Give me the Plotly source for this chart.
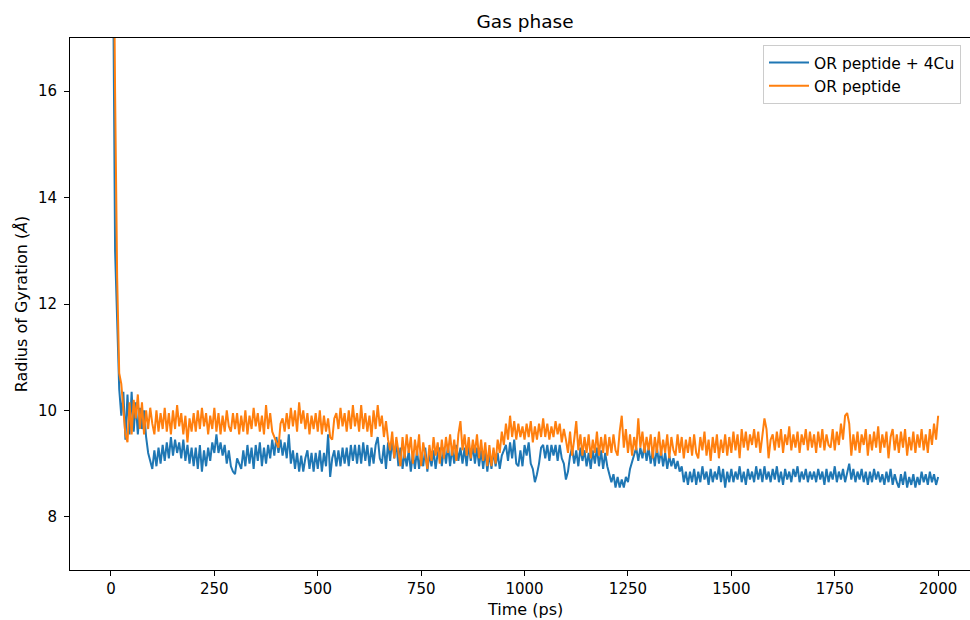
import plotly.graph_objects as go

# Radius of gyration sampled every 5 ps, 0..2000 ps
time_step_ps = 5

rg_cu = [
    24.0, 18.0, 13.0, 11.7, 10.4, 9.9, 10.35, 9.45, 10.3, 9.55, 10.35, 9.6, 10.15, 9.55, 10.05, 9.65, 10.0, 9.5, 9.2, 9.05,
    8.9, 9.25, 8.95, 9.3, 9.0, 9.35, 9.05, 9.4, 9.1, 9.5, 9.15, 9.45, 9.2, 9.4, 9.1, 9.45, 9.05, 9.35, 9.0, 9.3,
    8.95, 9.3, 8.9, 9.35, 8.85, 9.25, 8.95, 9.3, 9.05, 9.4, 9.2, 9.55, 9.2, 9.4, 9.15, 9.35, 9.0, 9.25, 8.95, 8.85,
    8.8, 9.1, 9.0, 8.9, 9.25, 8.95, 9.35, 9.0, 9.3, 8.9, 9.35, 9.05, 9.4, 8.95, 9.3, 9.0, 9.35, 9.1, 9.45, 9.15,
    9.5, 9.2, 9.45, 9.15, 9.4, 9.1, 9.55, 9.0, 9.25, 8.9, 9.2, 8.85, 9.15, 8.85, 9.1, 9.25, 8.9, 9.2, 8.85, 9.2,
    8.9, 9.25, 8.85, 9.2, 8.95, 9.55, 8.75, 9.1, 9.25, 8.95, 9.25, 8.95, 9.3, 9.0, 9.3, 8.95, 9.35, 9.05, 9.35, 9.0,
    9.35, 9.0, 9.4, 9.05, 9.35, 8.95, 9.3, 9.0, 9.35, 9.5, 9.1, 9.0, 9.35, 8.9, 9.4, 9.05, 9.45, 9.1, 9.4, 8.95,
    9.3, 8.9, 9.2, 8.95, 9.25, 8.85, 9.2, 8.9, 9.25, 8.9, 9.2, 8.95, 9.3, 8.85, 9.2, 8.95, 9.25, 8.9, 9.2, 9.3,
    8.95, 9.3, 9.0, 9.35, 8.95, 9.3, 9.0, 9.35, 9.05, 9.3, 9.0, 9.3, 8.95, 9.35, 9.05, 9.35, 9.0, 9.3, 8.95, 9.25,
    8.9, 9.25, 8.85, 9.2, 8.9, 9.25, 8.95, 9.2, 8.9, 9.15, 9.25, 9.35, 9.05, 9.4, 9.1, 9.45, 9.0, 8.95, 9.25, 8.95,
    9.35, 9.15, 9.4, 9.0, 8.9, 8.65, 8.8, 9.0, 9.3, 9.35, 9.1, 9.35, 9.05, 9.35, 9.15, 9.35, 9.05, 9.35, 9.1, 9.0,
    8.7, 8.85, 9.15, 9.3, 9.0, 9.25, 8.95, 9.3, 9.05, 9.25, 8.95, 9.2, 8.9, 9.25, 9.0, 9.3, 8.95, 9.25, 8.9, 9.2,
    8.95, 8.8, 8.65, 8.8, 8.55, 8.75, 8.55, 8.7, 8.55, 8.75, 8.65, 8.9, 9.05, 9.2, 9.3, 9.05, 9.3, 9.1, 9.35, 9.05,
    9.3, 9.0, 9.25, 8.95, 9.3, 9.0, 9.25, 8.95, 9.2, 8.9, 9.15, 8.95, 9.1, 8.9, 9.05, 8.85, 8.95, 8.65, 8.85, 8.6,
    8.85, 8.65, 8.9, 8.6, 8.85, 8.65, 8.95, 8.7, 8.85, 8.6, 8.9, 8.65, 8.85, 8.7, 8.95, 8.65, 8.9, 8.55, 8.85, 8.65,
    8.9, 8.65, 8.85, 8.7, 8.95, 8.65, 8.85, 8.6, 8.9, 8.7, 8.85, 8.65, 8.95, 8.7, 8.9, 8.65, 8.95, 8.7, 8.85, 8.65,
    8.9, 8.7, 8.95, 8.65, 8.85, 8.6, 8.9, 8.7, 8.85, 8.65, 8.9, 8.75, 8.95, 8.65, 8.85, 8.7, 8.9, 8.65, 8.85, 8.7,
    8.85, 8.65, 8.9, 8.7, 8.85, 8.6, 8.9, 8.65, 8.85, 8.7, 8.95, 8.65, 8.85, 8.7, 8.9, 8.65, 8.85, 9.0, 8.7, 8.9,
    8.65, 8.85, 8.7, 8.9, 8.65, 8.85, 8.6, 8.85, 8.65, 8.9, 8.7, 8.85, 8.65, 8.8, 8.6, 8.85, 8.65, 8.9, 8.6, 8.8,
    8.65, 8.55, 8.8, 8.6, 8.85, 8.55, 8.75, 8.6, 8.8, 8.55, 8.75, 8.6, 8.85, 8.65, 8.8, 8.6, 8.85, 8.65, 8.8, 8.6, 8.75,
]

rg_free = [
    25.0, 20.0, 16.0, 12.5, 10.7, 10.5, 10.0, 9.55, 9.4, 10.15, 9.55, 10.2, 9.85, 10.3, 9.65, 10.15, 9.55, 10.0, 9.65, 10.05,
    9.75, 9.55, 10.0, 9.6, 9.95, 9.65, 10.05, 9.6, 9.95, 9.55, 10.0, 9.65, 10.1, 9.7, 9.95, 9.55, 9.9, 9.4, 9.85, 9.6,
    9.95, 9.6, 10.0, 9.65, 10.05, 9.7, 9.95, 9.55, 9.9, 9.65, 10.05, 9.6, 9.95, 9.55, 9.9, 9.6, 10.0, 9.7, 9.6, 9.95,
    9.65, 9.95, 9.55, 9.9, 9.6, 10.0, 9.55, 9.9, 9.65, 10.05, 9.7, 9.95, 9.6, 9.9, 9.55, 10.1, 9.65, 9.95, 9.6, 9.5,
    9.4, 9.3, 9.75, 9.85, 9.6, 9.95, 9.65, 10.05, 9.7, 10.0, 9.6, 10.15, 9.75, 10.0, 9.65, 9.95, 9.55, 9.9, 9.65, 9.95,
    9.6, 10.0, 9.55, 9.9, 9.6, 9.85, 9.5, 9.45, 9.85, 9.95, 9.65, 10.05, 9.7, 9.95, 9.6, 10.0, 9.65, 10.1, 9.7, 9.95,
    9.6, 10.1, 9.65, 9.95, 9.6, 9.9, 9.5, 10.0, 9.65, 10.1, 9.7, 9.9, 9.5, 9.8, 9.45, 9.25, 9.6, 9.1, 9.5, 9.2,
    8.95, 9.5, 9.1, 9.55, 9.2, 9.5, 9.0, 9.45, 9.15, 9.55, 8.95, 9.4, 9.1, 8.9, 9.35, 9.05, 9.5, 9.15, 9.4, 9.0,
    9.45, 9.1, 9.5, 9.2, 9.55, 9.15, 9.45, 9.05, 9.55, 9.8, 9.25, 9.55, 9.15, 9.5, 9.1, 9.45, 9.2, 9.55, 9.1, 9.45,
    9.05, 9.4, 8.95, 9.35, 8.95, 9.3, 9.0, 9.45, 9.2, 9.6, 9.35, 9.75, 9.45, 9.9, 9.5, 9.8, 9.45, 9.75, 9.5, 9.7,
    9.45, 9.75, 9.5, 9.8, 9.4, 9.7, 9.45, 9.75, 9.5, 9.85, 9.5, 9.75, 9.45, 9.7, 9.5, 9.8, 9.55, 9.75, 9.4, 9.65,
    9.45, 9.2, 9.6, 9.15, 9.45, 9.8, 9.25, 9.55, 9.15, 9.5, 9.2, 9.55, 9.1, 9.45, 9.2, 9.6, 9.15, 9.5, 9.2, 9.55,
    9.15, 9.5, 9.2, 9.55, 9.25, 9.15, 9.6, 9.9, 9.3, 9.65, 9.2, 9.55, 9.15, 9.5, 9.25, 9.85, 9.3, 9.6, 9.2, 9.5,
    9.25, 9.55, 9.1, 9.5, 9.2, 9.6, 9.15, 9.45, 9.2, 9.55, 9.1, 9.5, 9.25, 9.15, 9.55, 9.2, 9.5, 9.1, 9.45, 9.2,
    9.5, 9.15, 9.55, 9.2, 9.1, 9.5, 9.25, 9.6, 9.15, 9.45, 9.05, 9.5, 9.2, 9.55, 9.1, 9.45, 9.2, 9.55, 9.15, 9.5,
    9.2, 9.6, 9.25, 9.55, 9.1, 9.65, 9.3, 9.6, 9.25, 9.55, 9.35, 9.65, 9.3, 9.6, 9.2, 9.55, 9.85, 9.65, 9.1, 9.45,
    9.55, 9.25, 9.6, 9.3, 9.65, 9.2, 9.55, 9.35, 9.7, 9.25, 9.55, 9.3, 9.6, 9.2, 9.55, 9.35, 9.65, 9.25, 9.6, 9.3,
    9.55, 9.2, 9.6, 9.3, 9.65, 9.25, 9.55, 9.35, 9.3, 9.65, 9.25, 9.6, 9.35, 9.75, 9.45, 9.9, 9.95, 9.75, 9.15, 9.55,
    9.25, 9.6, 9.2, 9.55, 9.35, 9.65, 9.15, 9.55, 9.25, 9.6, 9.3, 9.7, 9.2, 9.55, 9.3, 9.6, 9.1, 9.5, 9.65, 9.25,
    9.55, 9.2, 9.6, 9.3, 9.65, 9.15, 9.5, 9.25, 9.6, 9.2, 9.55, 9.3, 9.65, 9.25, 9.55, 9.2, 9.65, 9.35, 9.75, 9.45, 9.9,
]

series_names = ["OR peptide + 4Cu", "OR peptide"]
series_colors = ["#1f77b4", "#ff7f0e"]
x_ticks = [0, 250, 500, 750, 1000, 1250, 1500, 1750, 2000]
y_ticks = [8, 10, 12, 14, 16]

FONT = "DejaVu Sans"
# horizontal centre of the axes box (the axes run slightly past the right edge)
AXES_CENTER = 0.5056

fig = go.Figure()
for name, color, values in zip(series_names, series_colors, [rg_cu, rg_free]):
    t = [i * time_step_ps for i in range(len(values))]
    fig.add_trace(go.Scatter(
        x=t, y=values, mode="lines", name=name,
        line=dict(color=color, width=2),
    ))

axis_common = dict(
    showgrid=False, zeroline=False, showline=True, linecolor="black", linewidth=1,
    ticks="outside", ticklen=5, tickwidth=1, tickcolor="black",
    tickfont=dict(family=FONT, size=15, color="black"),
)

fig.update_layout(
    width=970, height=620,
    margin=dict(l=70, r=0, t=38, b=50),
    paper_bgcolor="white", plot_bgcolor="white",
    font=dict(family=FONT, color="black"),
    title=dict(text="Gas phase", xref="paper", x=AXES_CENTER, xanchor="center",
               yref="container", y=1 - 22 / 620, yanchor="middle",
               font=dict(family=FONT, size=18.5, color="black")),
    xaxis=dict(range=[-99, 2077], tickvals=x_ticks, mirror=True, **axis_common),
    yaxis=dict(range=[7, 17], tickvals=y_ticks, ticklabelstandoff=4,
               title=dict(text="Radius of Gyration (<i>Å</i>)", font=dict(family=FONT, size=16), standoff=6),
               **axis_common),
    legend=dict(x=0.77, y=0.987, xanchor="left", yanchor="top",
                bgcolor="rgba(255,255,255,0.8)", bordercolor="#cccccc", borderwidth=1,
                font=dict(family=FONT, size=15.5, color="black"), itemwidth=40),
    annotations=[dict(text="Time (ps)", xref="paper", yref="paper", x=AXES_CENTER, y=0,
                      xanchor="center", yanchor="top", yshift=-28, showarrow=False,
                      font=dict(family=FONT, size=16, color="black"))],
    showlegend=True,
)

fig.write_html("out.html")
